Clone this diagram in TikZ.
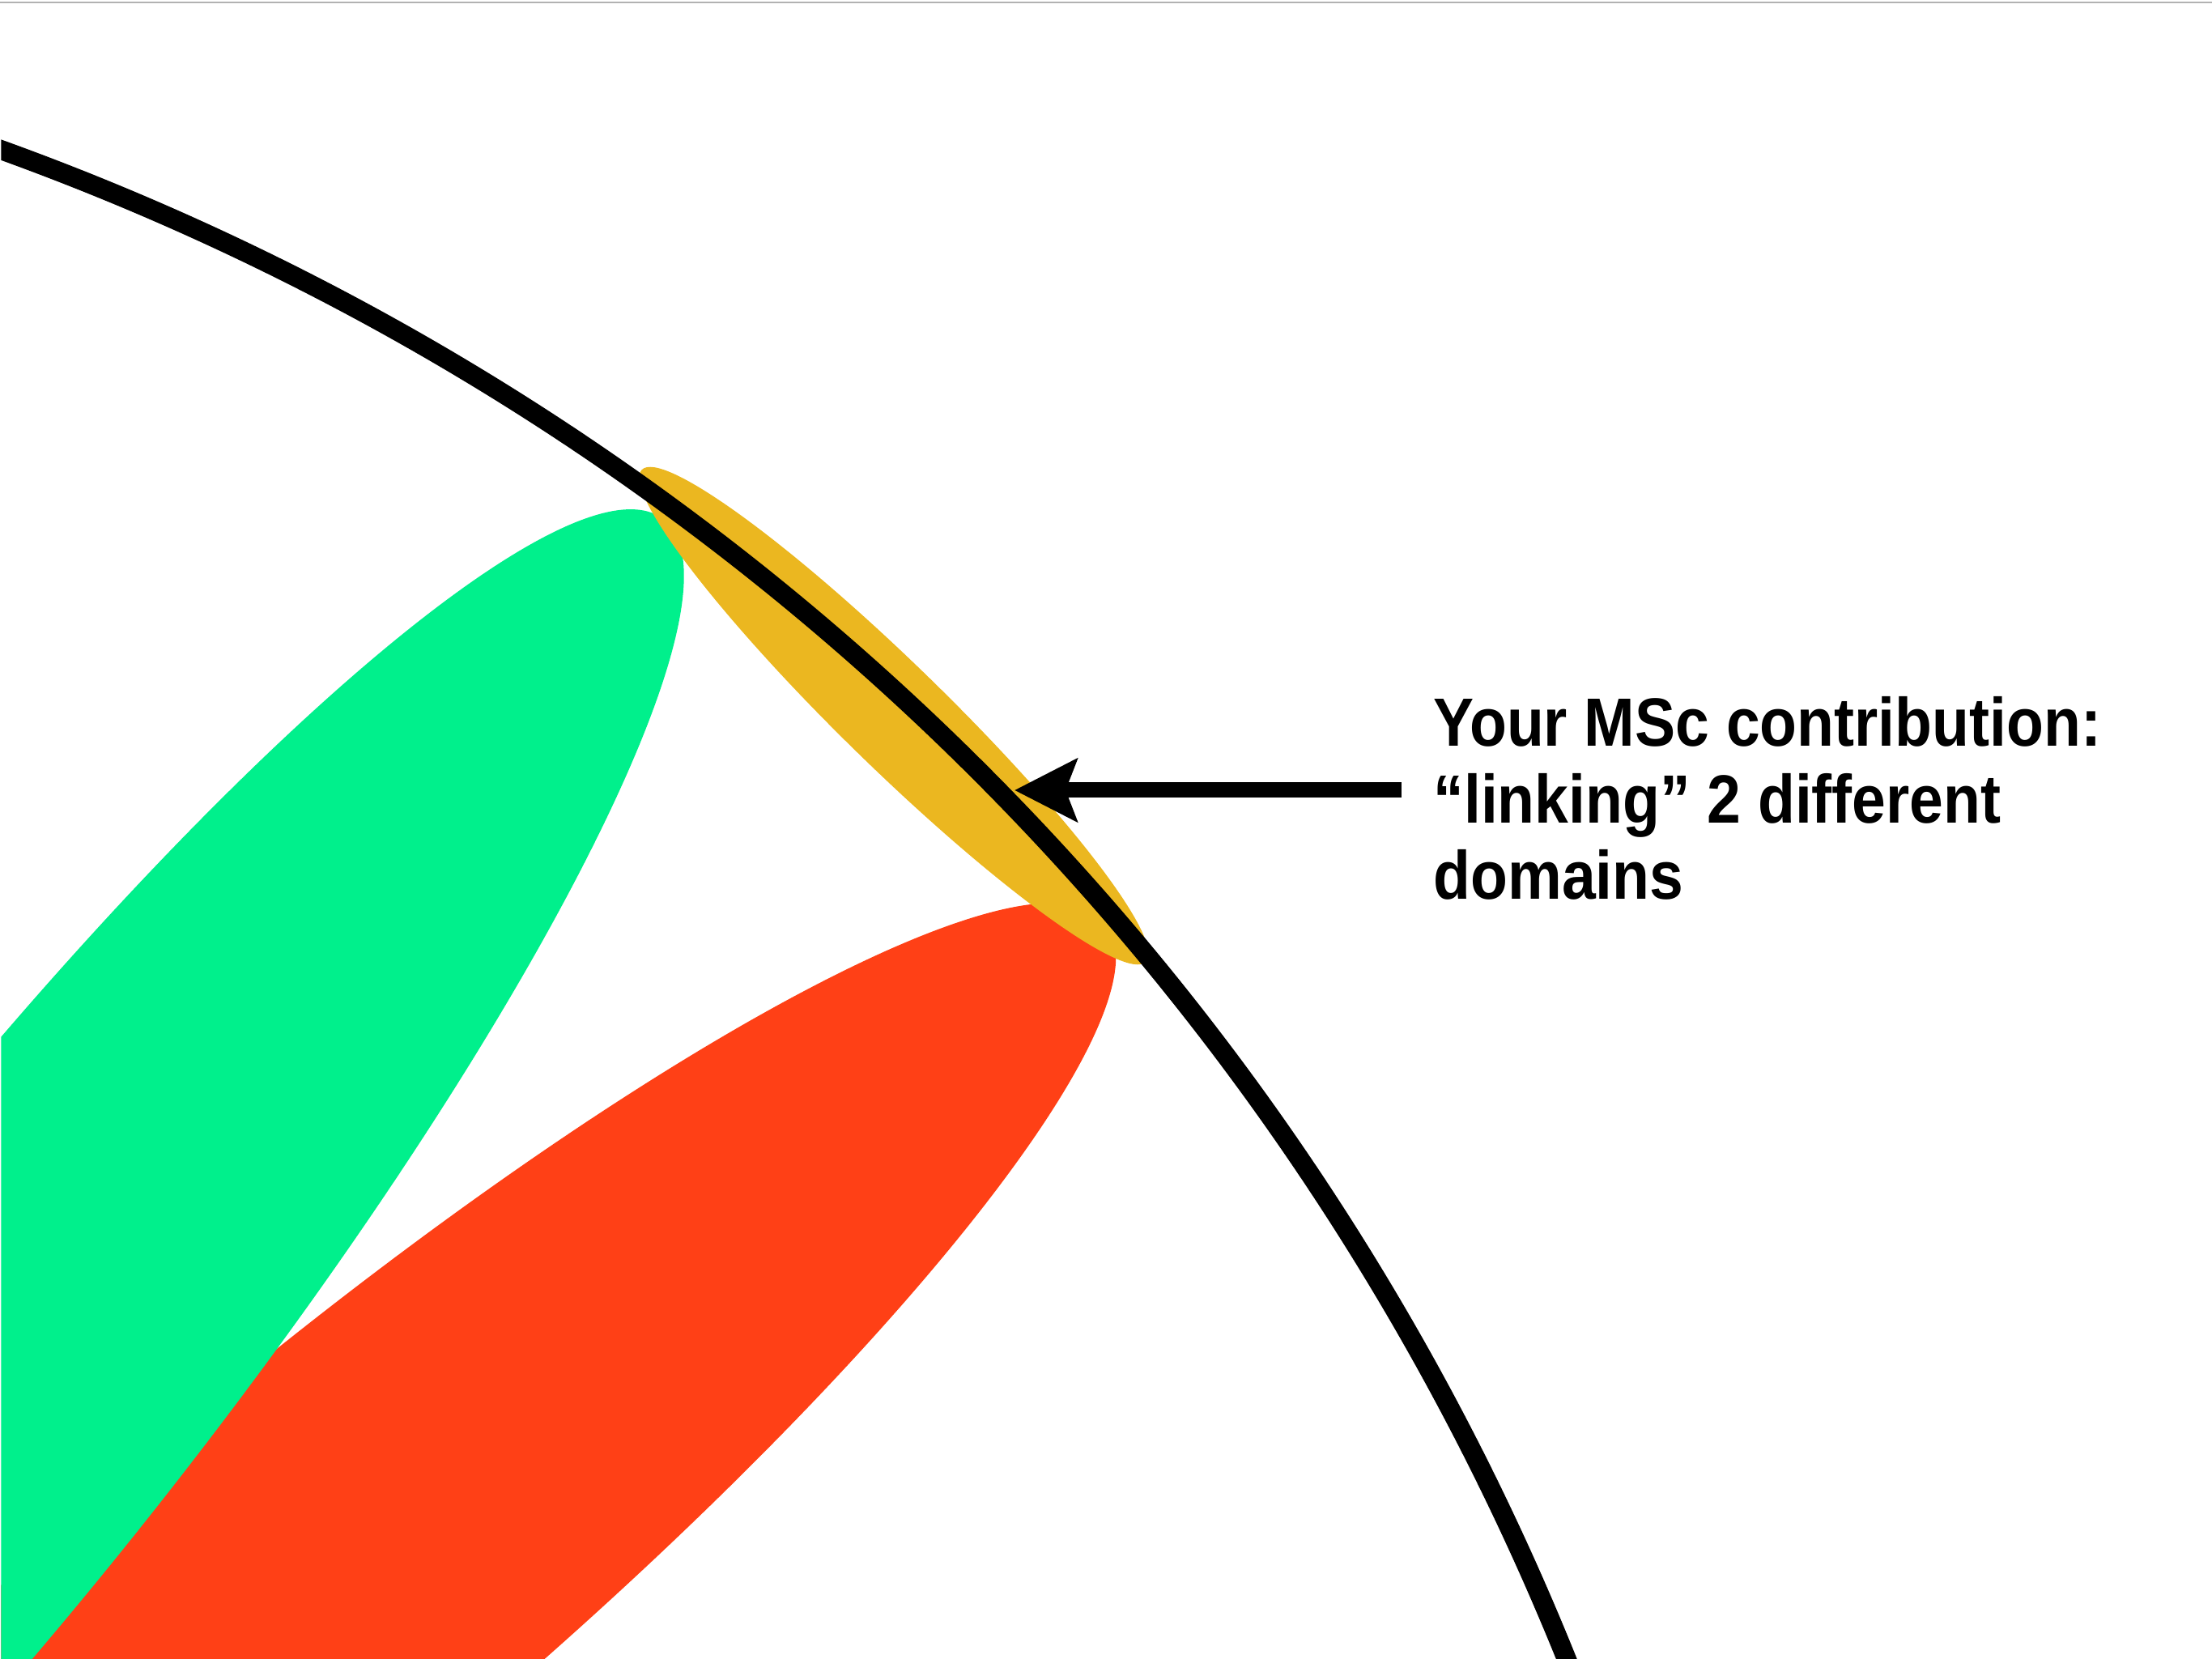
\documentclass[tikz,border=0pt]{standalone}
\usepackage{fontspec}
\newfontfamily\notefont{Liberation Sans}[FakeStretch=0.89]
\usepackage{tikz}
\usetikzlibrary{arrows.meta}
\definecolor{leafgreen}{RGB}{0,240,140}
\definecolor{leafred}{RGB}{255,64,22}
\definecolor{linkyellow}{RGB}{235,183,32}

\begin{document}
\begin{tikzpicture}
\useasboundingbox (0,0) rectangle (27.32,20.48);
\draw[gray!60, line width=0.02cm] (0,20.445) -- (27.32,20.445);
\begin{scope}
\clip (0.015,0) rectangle (27.32,20.43);
\fill[leafred, rotate around={40:(3.84,0.87)}] (3.84,0.87) ellipse (12.8 and 2.55);
\fill[leafgreen, rotate around={52:(0.11,3.72)}] (0.11,3.72) ellipse (13.13 and 2.58);
\fill[linkyellow, rotate around={-44.3:(11.04,11.64)}] (11.04,11.64) ellipse (4.35 and 0.64);
\draw[line width=0.24cm] (-11.18,-12.33) ++(72:32.92) arc[start angle=72, end angle=20, radius=32.92];
\end{scope}
\node[font=\notefont\bfseries\fontsize{24}{27}\selectfont, align=left, anchor=base west, inner sep=0pt] (note) at (17.70,9.37) {Your MSc contribution:\\“linking” 2 different\\domains};
\coordinate (tail) at (17.31,10.72);
\coordinate (tip) at (12.53,10.72);
\draw[-{Stealth[length=0.77cm,width=0.77cm,inset=0.14cm]}, line width=0.19cm] (tail) -- (tip);
\end{tikzpicture}
\end{document}
